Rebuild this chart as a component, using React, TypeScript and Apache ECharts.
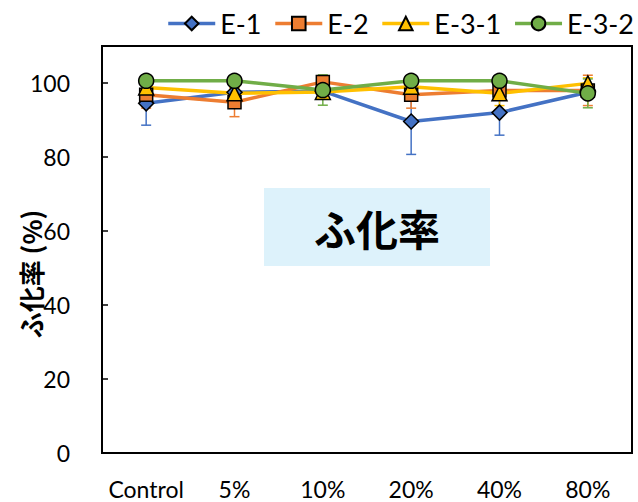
import React, { useEffect, useRef } from "react";
import * as echarts from "echarts";

const categories = ["Control", "5%", "10%", "20%", "40%", "80%"];
const seriesNames = ["E-1", "E-2", "E-3-1", "E-3-2"];
const e1Mean = [94.5, 97.5, 97.8, 89.6, 92.0, 97.5];
const e1Sd = [5.9, 1.5, 1.5, 8.9, 6.1, 1.5];
const e2Mean = [96.8, 94.8, 100.3, 96.8, 98.0, 98.0];
const e2Sd = [3.6, 3.9, 1.5, 3.6, 1.5, 4.1];
const e31Mean = [98.8, 97.2, 97.6, 99.0, 97.2, 99.9];
const e31Sd = [1.5, 1.5, 1.5, 1.5, 3.3, 1.5];
const e32Mean = [100.6, 100.6, 98.1, 100.6, 100.6, 97.2];
const e32Sd = [1.5, 1.5, 4.1, 1.5, 1.5, 3.9];
const yTicks = { min: 0, max: 110, interval: 20 };

const colors = ["#4472C4", "#ED7D31", "#FFC000", "#70AD47"];
const symbols = ["diamond", "rect", "triangle", "circle"];
const symbolSizes = [15, 13, 15, 15];
const means = [e1Mean, e2Mean, e31Mean, e32Mean];
const sds = [e1Sd, e2Sd, e31Sd, e32Sd];

export default function App() {
  const ref = useRef<HTMLDivElement>(null);
  useEffect(() => {
    if (!ref.current) return;
    const chart = echarts.init(ref.current, undefined, { renderer: "svg" });
    const errSeries = seriesNames.map((name, k) => ({
      type: "custom",
      name: name + " err",
      z: 1,
      silent: true,
      encode: { x: 0, y: [1, 2] },
      data: means[k].map((m, i) => [i, m - sds[k][i], m + sds[k][i]]),
      renderItem: (params: any, api: any) => {
        const lo = api.coord([api.value(0), api.value(1)]);
        const hi = api.coord([api.value(0), api.value(2)]);
        const w = 5;
        const st = { stroke: colors[k], lineWidth: 1.5 };
        return {
          type: "group",
          children: [
            { type: "line", shape: { x1: lo[0], y1: lo[1], x2: hi[0], y2: hi[1] }, style: st },
            { type: "line", shape: { x1: lo[0] - w, y1: lo[1], x2: lo[0] + w, y2: lo[1] }, style: st },
            { type: "line", shape: { x1: hi[0] - w, y1: hi[1], x2: hi[0] + w, y2: hi[1] }, style: st },
          ],
        };
      },
    }));
    const lineSeries = seriesNames.map((name, k) => ({
      type: "line",
      name,
      z: 3,
      data: means[k],
      symbol: symbols[k],
      symbolSize: symbolSizes[k],
      lineStyle: { color: colors[k], width: 3.5 },
      itemStyle: { color: colors[k], borderColor: "#000", borderWidth: 1.5 },
      emphasis: { disabled: true },
    }));
    chart.setOption({
      animation: false,
      textStyle: { fontFamily: "Lato" },
      grid: {
        left: 102,
        right: 6,
        top: 46,
        bottom: 49,
        show: true,
        borderColor: "#000",
        borderWidth: 2,
      },
      legend: {
        data: seriesNames,
        right: 4,
        top: 10,
        itemWidth: 47,
        itemHeight: 17,
        itemGap: 12,
        padding: 0,
        lineStyle: { width: 3.5 },
        textStyle: { fontSize: 27, color: "#000", fontFamily: "Lato" },
      },
      xAxis: {
        type: "category",
        data: categories,
        boundaryGap: true,
        axisLine: { lineStyle: { color: "#000", width: 2 } },
        axisTick: { inside: true, length: 6, lineStyle: { color: "#000", width: 1.5 } },
        axisLabel: { interval: 0, fontSize: 23, color: "#000", margin: 24, fontFamily: "Lato" },
        splitLine: { show: false },
      },
      yAxis: {
        type: "value",
        min: yTicks.min,
        max: yTicks.max,
        interval: yTicks.interval,
        axisLine: { show: true, lineStyle: { color: "#000", width: 2 } },
        axisTick: { show: true, inside: true, length: 6, lineStyle: { color: "#000", width: 1.5 } },
        axisLabel: { fontSize: 23, color: "#000", margin: 32, showMaxLabel: false, fontFamily: "Lato" },
        splitLine: { show: false },
      },
      graphic: [
        {
          type: "rect",
          left: 264,
          top: 188,
          shape: { width: 226, height: 78 },
          style: { fill: "#DDF2FB" },
          z: 0,
        },
        {
          type: "text",
          x: 377,
          y: 227,
          style: {
            text: "ふ化率",
            fontSize: 42,
            fontWeight: "bold",
            fontFamily: "Noto Sans CJK JP",
            fill: "#000",
            align: "center",
            verticalAlign: "middle",
          },
          z: 1,
        },
        {
          type: "text",
          x: 30,
          y: 274,
          rotation: Math.PI / 2,
          style: {
            text: "ふ化率 (%)",
            fontSize: 26,
            fontWeight: "bold",
            fontFamily: "Noto Sans CJK JP",
            fill: "#000",
            align: "center",
            verticalAlign: "middle",
          },
        },
      ],
      series: [...errSeries, ...lineSeries],
    });
    return () => chart.dispose();
  }, []);
  return (
    <div
      ref={ref}
      style={{ position: "fixed", left: 0, top: 0, width: 638, height: 502, background: "#fff" }}
    />
  );
}
